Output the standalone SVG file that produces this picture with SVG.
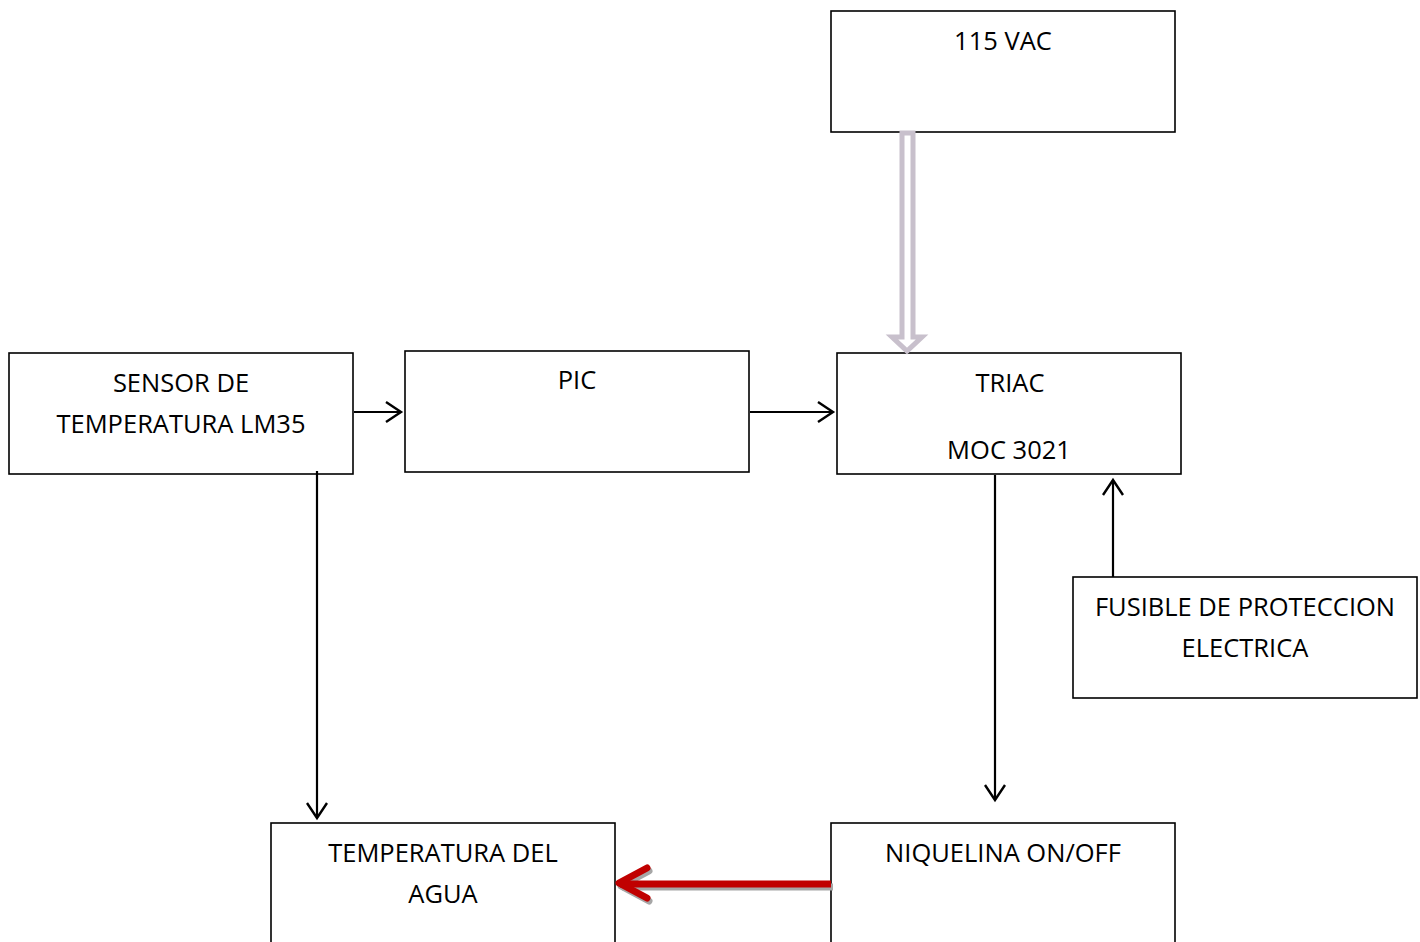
<svg xmlns="http://www.w3.org/2000/svg" width="1420" height="942" viewBox="0 0 1420 942">
<style>
.box{fill:#fff;stroke:#000;stroke-width:1.6}
.t{font-family:"Open Sans","Liberation Sans",sans-serif;font-size:25.5px;fill:#000;text-anchor:middle}
.c{fill:none;stroke:#000;stroke-width:2.2}
.h{fill:none;stroke:#000;stroke-width:2.4;stroke-linejoin:miter}
</style>
<rect width="1420" height="942" fill="#fff"/>
<g id="vac"><rect class="box" x="831" y="11" width="344" height="121"/><text class="t" x="1003" y="50">115 VAC</text></g>
<g id="sensor"><rect class="box" x="9" y="353" width="344" height="121"/><text class="t" x="181" y="392">SENSOR DE</text><text class="t" x="181" y="433">TEMPERATURA LM35</text></g>
<g id="pic"><rect class="box" x="405" y="351" width="344" height="121"/><text class="t" x="577" y="389">PIC</text></g>
<g id="triac"><rect class="box" x="837" y="353" width="344" height="121"/><text class="t" x="1010" y="392">TRIAC</text><text class="t" x="1009" y="459">MOC 3021</text></g>
<g id="fusible"><rect class="box" x="1073" y="577" width="344" height="121"/><text class="t" x="1245" y="616">FUSIBLE DE PROTECCION</text><text class="t" x="1245" y="657">ELECTRICA</text></g>
<g id="agua"><rect class="box" x="271" y="823" width="344" height="130"/><text class="t" x="443" y="862">TEMPERATURA DEL</text><text class="t" x="443" y="903">AGUA</text></g>
<g id="niquelina"><rect class="box" x="831" y="823" width="344" height="130"/><text class="t" x="1003" y="862">NIQUELINA ON/OFF</text></g>
<g id="connectors">
<line class="c" x1="354" y1="412" x2="401" y2="412"/><polyline class="h" points="386,402 401,412 386,422"/>
<line class="c" x1="750" y1="412" x2="833" y2="412"/><polyline class="h" points="818,402 833,412 818,422"/>
<line class="c" x1="317" y1="471" x2="317" y2="818"/><polyline class="h" points="307,803 317,818 327,803"/>
<line class="c" x1="995" y1="475" x2="995" y2="800"/><polyline class="h" points="985,785 995,800 1005,785"/>
<line class="c" x1="1113" y1="577" x2="1113" y2="480"/><polyline class="h" points="1103,495 1113,480 1123,495"/>
<polygon points="902,133 913,133 913,337 922,337 907,351 892,337 902,337" fill="#fff" stroke="#c8c0cc" stroke-width="5" stroke-linejoin="miter"/>
<g transform="translate(2,3)" stroke="#a6a6a6" fill="none" stroke-width="7" stroke-linecap="round" stroke-linejoin="round"><line x1="831" y1="884" x2="620" y2="884" stroke-linecap="butt"/><polyline points="647,868 619,883 647,898"/></g>
<g stroke="#c00000" fill="none" stroke-width="7" stroke-linecap="round" stroke-linejoin="round"><line x1="831" y1="884" x2="620" y2="884" stroke-linecap="butt"/><polyline points="647,868 619,883 647,898"/></g>
</g>
</svg>
